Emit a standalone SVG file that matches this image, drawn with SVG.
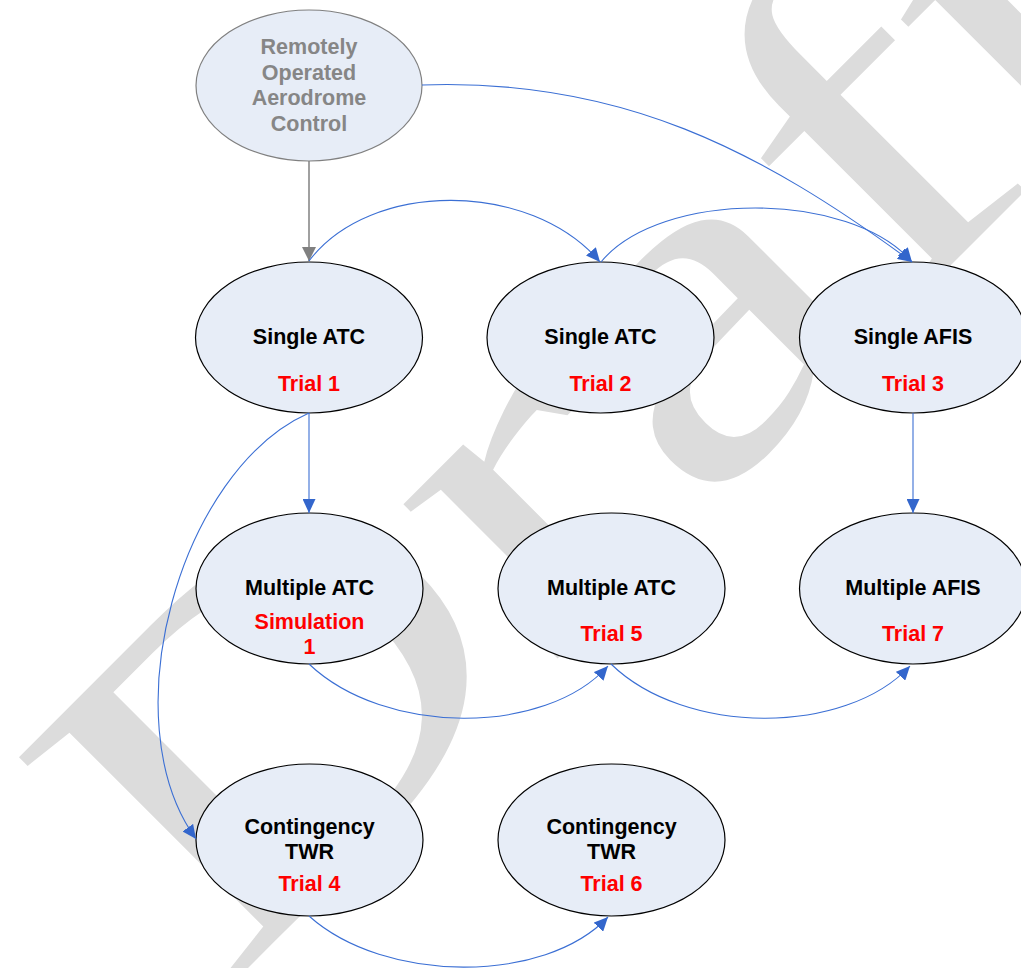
<svg xmlns="http://www.w3.org/2000/svg" width="1021" height="968" viewBox="0 0 1021 968">
<style>
.wm{font-family:"Liberation Serif","Times New Roman",serif;font-size:475px;fill:#dcdcdc}
.node{fill:#E7EDF7;stroke:#000;stroke-width:1.2}
.node0{fill:#E7EDF7;stroke:#808080;stroke-width:1.2}
.t{font-family:"Liberation Sans",Arial,sans-serif;font-weight:bold;font-size:21.5px;text-anchor:middle}
.blk{fill:#000}
.red{fill:#FF0000}
.gry{fill:#868686}
.c{fill:none;stroke:#3B6FD4;stroke-width:1.1}
.cg{fill:none;stroke:#808080;stroke-width:1.5}
</style>
<defs>
<marker id="ab" markerUnits="userSpaceOnUse" markerWidth="14" markerHeight="13" viewBox="0 0 14 13" refX="14" refY="6.5" orient="auto"><path d="M0,0 L14,6.5 L0,13 z" fill="#3366CC"/></marker>
<marker id="ag" markerUnits="userSpaceOnUse" markerWidth="14" markerHeight="14" viewBox="0 0 14 14" refX="14" refY="7" orient="auto"><path d="M0,0 L14,7 L0,14 z" fill="#808080"/></marker>
</defs>
<rect width="1021" height="968" fill="#fff"/>
<g id="watermark">
<text class="wm" transform="translate(226,990) rotate(-45) scale(1.33,1)">Draft</text>
</g>
<g id="n-roac">
<ellipse class="node0" cx="309" cy="85.5" rx="113" ry="75.5"/>
<text class="t gry" x="309" y="54">Remotely</text>
<text class="t gry" x="309" y="79.5">Operated</text>
<text class="t gry" x="309" y="105">Aerodrome</text>
<text class="t gry" x="309" y="130.5">Control</text>
</g>
<g id="n-trial1">
<ellipse class="node" cx="309" cy="337.5" rx="113.5" ry="75.5"/>
<text class="t blk" x="309" y="344">Single ATC</text>
<text class="t red" x="309" y="391">Trial 1</text>
</g>
<g id="n-trial2">
<ellipse class="node" cx="600.5" cy="337.5" rx="113.5" ry="75.5"/>
<text class="t blk" x="600.5" y="344">Single ATC</text>
<text class="t red" x="600.5" y="391">Trial 2</text>
</g>
<g id="n-trial3">
<ellipse class="node" cx="913" cy="337.5" rx="113.5" ry="75.5"/>
<text class="t blk" x="913" y="344">Single AFIS</text>
<text class="t red" x="913" y="391">Trial 3</text>
</g>
<g id="n-sim1">
<ellipse class="node" cx="309.5" cy="588.5" rx="113.5" ry="75.5"/>
<text class="t blk" x="309.5" y="595">Multiple ATC</text>
<text class="t red" x="309.5" y="629">Simulation</text>
<text class="t red" x="309.5" y="654">1</text>
</g>
<g id="n-trial5">
<ellipse class="node" cx="611.5" cy="588.5" rx="113.5" ry="75.5"/>
<text class="t blk" x="611.5" y="595">Multiple ATC</text>
<text class="t red" x="611.5" y="641">Trial 5</text>
</g>
<g id="n-trial7">
<ellipse class="node" cx="913" cy="588.5" rx="113.5" ry="75.5"/>
<text class="t blk" x="913" y="595">Multiple AFIS</text>
<text class="t red" x="913" y="641">Trial 7</text>
</g>
<g id="n-trial4">
<ellipse class="node" cx="309.5" cy="840" rx="113.5" ry="76"/>
<text class="t blk" x="309.5" y="834">Contingency</text>
<text class="t blk" x="309.5" y="859">TWR</text>
<text class="t red" x="309.5" y="891">Trial 4</text>
</g>
<g id="n-trial6">
<ellipse class="node" cx="611.5" cy="840" rx="113.5" ry="76"/>
<text class="t blk" x="611.5" y="834">Contingency</text>
<text class="t blk" x="611.5" y="859">TWR</text>
<text class="t red" x="611.5" y="891">Trial 6</text>
</g>
<g id="connectors">
<path class="cg" d="M309,161 L309,261" marker-end="url(#ag)"/>
<path class="c" d="M309,261 C370,180 530,180 600,262" marker-end="url(#ab)"/>
<path class="c" d="M601,262 C660,190 850,190 912,262" marker-end="url(#ab)"/>
<path class="c" d="M422,85 C620,78 760,150 912,262" marker-end="url(#ab)"/>
<path class="c" d="M309,413 L309,513" marker-end="url(#ab)"/>
<path class="c" d="M913,413 L913,513" marker-end="url(#ab)"/>
<path class="c" d="M309,413 C180,470 110,720 196,839" marker-end="url(#ab)"/>
<path class="c" d="M309,664 C385,736 545,736 608,666" marker-end="url(#ab)"/>
<path class="c" d="M611,664 C685,736 845,736 910,666" marker-end="url(#ab)"/>
<path class="c" d="M309,916 C385,984 545,984 608,917" marker-end="url(#ab)"/>
</g>
</svg>
